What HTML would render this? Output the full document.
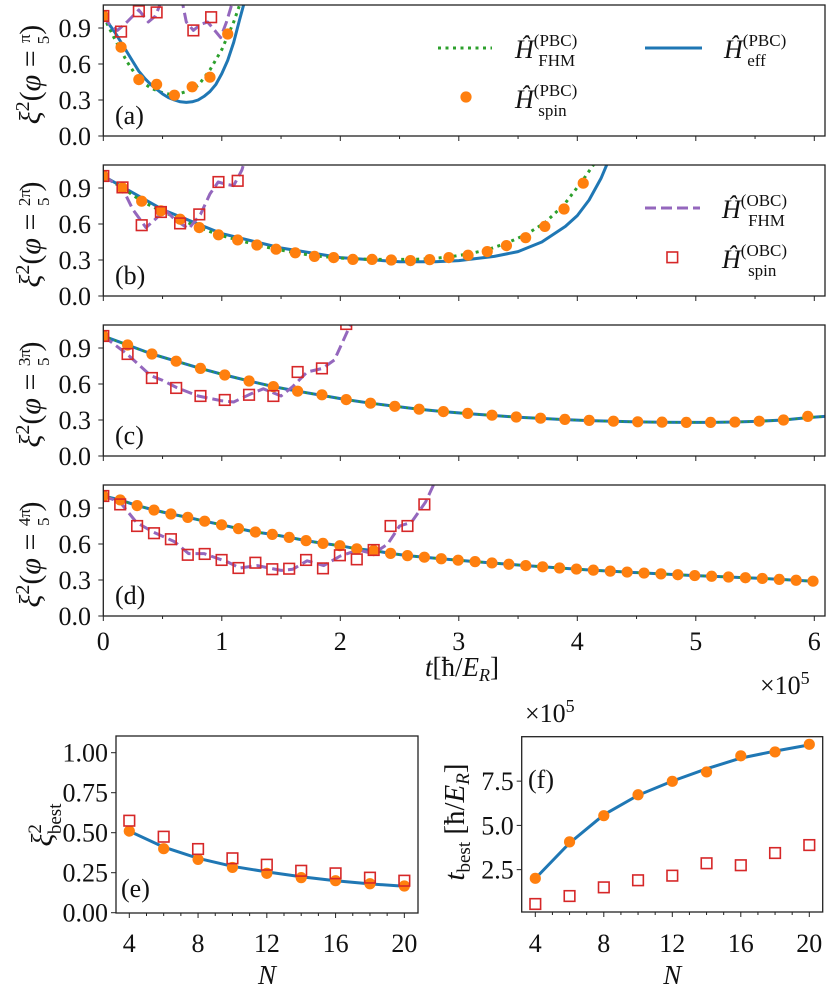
<!DOCTYPE html>
<html><head><meta charset="utf-8"><style>
html,body{margin:0;padding:0;background:#fff}
svg{display:block}
text{font-family:"Liberation Serif",serif;fill:#111}
</style></head><body>
<svg id="fig" width="830" height="996" viewBox="0 0 830 996" xmlns="http://www.w3.org/2000/svg"></svg>
<script>
// ---- data: main panels (t in units of 1e5 hbar/E_R) ----
const yTicksMain = [0.0, 0.3, 0.6, 0.9];
const yTickLabelsMain = ["0.0", "0.3", "0.6", "0.9"];
const xTicksMain = [0, 1, 2, 3, 4, 5, 6];
const panelLetters = ["(a)", "(b)", "(c)", "(d)"];
const phiNum = ["π", "2π", "3π", "4π"];
// panel a
const effA_t = [0, 0.05, 0.1, 0.15, 0.2, 0.25, 0.3, 0.35, 0.4, 0.45, 0.5, 0.55, 0.6, 0.65, 0.7, 0.75, 0.8, 0.85, 0.9, 0.95, 1.0, 1.05, 1.1, 1.15, 1.2];
const effA_v = [1.0, 0.93, 0.86, 0.78, 0.70, 0.62, 0.54, 0.48, 0.43, 0.39, 0.35, 0.32, 0.30, 0.285, 0.28, 0.285, 0.30, 0.33, 0.37, 0.43, 0.52, 0.63, 0.78, 0.97, 1.15];
const fhmA_t = [0, 0.1, 0.2, 0.3, 0.4, 0.5, 0.6, 0.7, 0.8, 0.9, 1.0, 1.1, 1.16];
const fhmA_v = [1.0, 0.80, 0.62, 0.47, 0.40, 0.36, 0.34, 0.37, 0.42, 0.55, 0.72, 0.95, 1.12];
const spinA_t = [0, 0.15, 0.3, 0.45, 0.6, 0.75, 0.9, 1.05];
const spinA_v = [1.0, 0.74, 0.47, 0.43, 0.34, 0.41, 0.49, 0.85];
const obcSpinA_t = [0, 0.15, 0.3, 0.45, 0.76, 0.91];
const obcSpinA_v = [1.0, 0.87, 1.04, 1.03, 0.88, 0.99];
const obcFhmA_t = [0, 0.06, 0.12, 0.2, 0.3, 0.38, 0.44, 0.5, 0.66, 0.7, 0.76, 0.82, 0.88, 0.94, 0.99, 1.04, 1.1];
const obcFhmA_v = [1.0, 0.92, 0.88, 0.95, 1.05, 0.95, 1.0, 1.15, 1.15, 0.95, 0.88, 0.93, 0.95, 0.88, 0.82, 0.95, 1.15];
// panel b
const effB_t = [0, 0.5, 1.0, 1.5, 2.0, 2.5, 2.8, 3.0, 3.3, 3.5, 3.7, 3.9, 4.0, 4.1, 4.2, 4.26];
const effB_v = [1.0, 0.72, 0.52, 0.40, 0.32, 0.285, 0.285, 0.295, 0.33, 0.37, 0.45, 0.58, 0.67, 0.80, 0.98, 1.12];
const spinB_v = [1.0, 0.90, 0.79, 0.71, 0.64, 0.57, 0.51, 0.467, 0.425, 0.39, 0.36, 0.33, 0.32, 0.305, 0.305, 0.30, 0.295, 0.303, 0.32, 0.34, 0.37, 0.42, 0.486, 0.58, 0.725, 0.94];
const dtB = 0.162;
const fhmB_v = [1.0, 0.90, 0.79, 0.71, 0.64, 0.57, 0.51, 0.467, 0.425, 0.39, 0.36, 0.335, 0.32, 0.31, 0.305, 0.305, 0.305, 0.31, 0.325, 0.35, 0.385, 0.44, 0.51, 0.61, 0.76, 0.97, 1.2];
const obcSpinB_v = [1.0, 0.905, 0.59, 0.70, 0.605, 0.68, 0.95, 0.96];
const obcFhmB_t = [0, 0.16, 0.25, 0.36, 0.45, 0.52, 0.6, 0.72, 0.82, 0.9, 0.97, 1.04, 1.1, 1.17, 1.2];
const obcFhmB_v = [1.0, 0.9, 0.72, 0.57, 0.65, 0.72, 0.64, 0.56, 0.68, 0.85, 0.95, 0.93, 0.92, 1.05, 1.15];
// panel c
const dtC = 0.205;
const spinC_v = [1.0, 0.925, 0.85, 0.79, 0.73, 0.675, 0.625, 0.578, 0.54, 0.51, 0.47, 0.44, 0.414, 0.39, 0.37, 0.355, 0.34, 0.325, 0.315, 0.305, 0.297, 0.29, 0.285, 0.282, 0.28, 0.28, 0.283, 0.29, 0.30, 0.33];
const effC_v = [1.0, 0.925, 0.85, 0.79, 0.73, 0.675, 0.625, 0.578, 0.54, 0.505, 0.47, 0.44, 0.414, 0.39, 0.37, 0.353, 0.338, 0.324, 0.313, 0.303, 0.295, 0.289, 0.284, 0.281, 0.28, 0.28, 0.283, 0.29, 0.30, 0.32, 0.335];
const obcSpinC_v = [1.0, 0.85, 0.65, 0.567, 0.5, 0.467, 0.51, 0.5, 0.7, 0.73, 1.1];
const obcFhmC_t = [0, 0.2, 0.4, 0.5, 0.62, 0.8, 1.0, 1.1, 1.25, 1.35, 1.5, 1.6, 1.72, 1.85, 1.95, 2.07, 2.12];
const obcFhmC_v = [1.0, 0.85, 0.67, 0.63, 0.57, 0.50, 0.46, 0.45, 0.52, 0.56, 0.50, 0.58, 0.70, 0.73, 0.80, 1.06, 1.15];
// panel d
const dtD = 0.1426;
const spinD_v = [1.0, 0.967, 0.92, 0.883, 0.85, 0.822, 0.79, 0.76, 0.728, 0.70, 0.68, 0.655, 0.628, 0.605, 0.586, 0.56, 0.545, 0.522, 0.503, 0.49, 0.477, 0.465, 0.453, 0.442, 0.431, 0.42, 0.41, 0.40, 0.391, 0.382, 0.374, 0.366, 0.358, 0.351, 0.344, 0.337, 0.331, 0.325, 0.319, 0.313, 0.305, 0.298, 0.29];
const obcSpinD_v = [1.0, 0.93, 0.75, 0.69, 0.64, 0.51, 0.517, 0.467, 0.40, 0.444, 0.39, 0.394, 0.467, 0.397, 0.506, 0.472, 0.55, 0.75, 0.75, 0.93];
const obcFhmD_t = [0, 0.14, 0.28, 0.42, 0.6, 0.72, 0.85, 1.05, 1.15, 1.3, 1.5, 1.6, 1.72, 1.86, 2.0, 2.15, 2.28, 2.4, 2.5, 2.6, 2.72, 2.8];
const obcFhmD_v = [1.0, 0.95, 0.78, 0.70, 0.62, 0.52, 0.52, 0.45, 0.40, 0.42, 0.38, 0.39, 0.46, 0.42, 0.50, 0.55, 0.52, 0.60, 0.75, 0.78, 0.95, 1.12];
// panel e, f
const Ns = [4, 6, 8, 10, 12, 14, 16, 18, 20];
const xiSpin = [0.51, 0.40, 0.333, 0.283, 0.246, 0.219, 0.20, 0.181, 0.167];
const xiObc = [0.575, 0.475, 0.398, 0.34, 0.30, 0.262, 0.246, 0.219, 0.20];
const xiEff = [0.51, 0.41, 0.34, 0.29, 0.255, 0.225, 0.20, 0.18, 0.165];
const eYTicks = [0, 0.25, 0.5, 0.75, 1.0];
const eYLabels = ["0.00", "0.25", "0.50", "0.75", "1.00"];
const nTicks = [4, 8, 12, 16, 20];
const tSpin = [2.01, 4.07, 5.55, 6.73, 7.49, 8.02, 8.93, 9.15, 9.58];
const tObc = [0.56, 1.01, 1.50, 1.90, 2.16, 2.86, 2.75, 3.44, 3.89];
const tEff = [2.0, 4.0, 5.6, 6.7, 7.5, 8.2, 8.8, 9.2, 9.55];
const fYTicks = [2.5, 5.0, 7.5];
const fYLabels = ["2.5", "5.0", "7.5"];

const C = {blue:"#1f77b4", orange:"#ff7f0e", green:"#2ca02c", purple:"#9467bd", red:"#d62728"};
const svg = document.getElementById('fig');
const NS = "http://www.w3.org/2000/svg";
function mk(tag, attrs, parent){
  const e = document.createElementNS(NS, tag);
  for (const k in attrs) e.setAttribute(k, attrs[k]);
  (parent || svg).appendChild(e);
  return e;
}
function seq(n, dt){ const a=[]; for(let i=0;i<n;i++) a.push(i*dt); return a; }
function pathD(ts, vs, X, Y){ return ts.map((t,i)=>(i?'L':'M')+X(t).toFixed(1)+','+Y(vs[i]).toFixed(1)).join(''); }

// ---- main panels ----
const L = 103.3, R = 825, tops = [5, 165, 325, 485], H = 131;
const X = t => L + t * 118.5;
const defs = mk('defs', {});
tops.forEach((top, p) => {
  const cp = mk('clipPath', {id: 'clip' + p}, defs);
  mk('rect', {x: L, y: top, width: R - L, height: H}, cp);
});

function drawPanel(p, series){
  const top = tops[p], bot = top + H;
  const Y = v => bot - v * 120;
  const g = mk('g', {});
  
  
  const plot = mk('g', {'clip-path': 'url(#clip' + p + ')'}, g);
  series.forEach(s => {
    if (s.type === 'line') {
      const el = mk('path', {d: pathD(s.t, s.v, X, Y), fill: 'none', stroke: s.color, 'stroke-width': s.w || 3, 'stroke-dasharray': s.dash || 'none', 'stroke-linejoin': 'round'}, plot);
      
      
    } else {
      s.t.forEach((t, i) => {
        let el;
        if (s.type === 'dot') el = mk('circle', {cx: X(t), cy: Y(s.v[i]), r: 5.6, fill: C.orange}, plot);
        else el = mk('rect', {x: X(t) - 5.3, y: Y(s.v[i]) - 5.3, width: 10.6, height: 10.6, fill: 'none', stroke: C.red, 'stroke-width': 1.6}, plot);
        
        
      });
    }
  });
  const fr = mk('rect', {x: L, y: top, width: R - L, height: H, fill: 'none', stroke: '#222', 'stroke-width': 1.3}, g);
  
  
  yTicksMain.forEach((v, i) => {
    mk('line', {x1: L - 5, x2: L, y1: Y(v), y2: Y(v), stroke: '#222', 'stroke-width': 1}, g);
    const tx = mk('text', {x: 91, y: Y(v) + 9, 'text-anchor': 'end', 'font-size': 26}, g);
    tx.textContent = yTickLabelsMain[i];
    
    
  });
  for (let t = 0; t <= 6.01; t += 0.5) {
    const major = Math.abs(t - Math.round(t)) < 0.01;
    mk('line', {x1: X(t), x2: X(t), y1: bot, y2: bot + (major ? 5 : 3), stroke: '#222', 'stroke-width': 1}, g);
  }
  const lab = mk('text', {x: 115, y: bot - 12, 'font-size': 26}, g);
  lab.textContent = panelLetters[p];
  
  
  const yl = mk('text', {transform: `translate(40,${top + H / 2 + 4}) rotate(-90)`, 'text-anchor': 'middle', 'font-size': 30}, g);
  
  
  const nw = phiNum[p].length > 1 ? 16 : 9;
  yl.innerHTML = '<tspan font-style="italic">ξ</tspan><tspan dy="-11" font-size="20">2</tspan><tspan dy="11">(</tspan><tspan font-style="italic">φ</tspan> = <tspan font-size="17" dy="-10">' + phiNum[p] + '</tspan><tspan font-size="17" dx="-' + (nw + 1) + '" dy="19">5</tspan><tspan dy="-9" dx="' + (nw > 9 ? 6 : 1) + '">)</tspan>';
}

drawPanel(0, [
  {type:'line', t:fhmA_t, v:fhmA_v, color:C.green, dash:'3,4.5', name:'fhm-pbc-line'},
  {type:'line', t:effA_t, v:effA_v, color:C.blue, name:'eff-pbc-line'},
  {type:'line', t:obcFhmA_t, v:obcFhmA_v, color:C.purple, dash:'11,5', name:'fhm-obc-line'},
  {type:'dot', t:spinA_t, v:spinA_v, name:'spin-pbc'},
  {type:'sq', t:obcSpinA_t, v:obcSpinA_v, name:'spin-obc'}
]);
drawPanel(1, [
  {type:'line', t:effB_t, v:effB_v, color:C.blue, name:'eff-pbc-line'},
  {type:'line', t:seq(fhmB_v.length, dtB), v:fhmB_v, color:C.green, dash:'3,4.5', name:'fhm-pbc-line'},
  {type:'line', t:obcFhmB_t, v:obcFhmB_v, color:C.purple, dash:'11,5', name:'fhm-obc-line'},
  {type:'dot', t:seq(spinB_v.length, dtB), v:spinB_v, name:'spin-pbc'},
  {type:'sq', t:seq(obcSpinB_v.length, dtB), v:obcSpinB_v, name:'spin-obc'}
]);
drawPanel(2, [
  {type:'line', t:seq(effC_v.length, dtC), v:effC_v, color:C.blue, name:'eff-pbc-line'},
  {type:'line', t:seq(effC_v.length, dtC), v:effC_v, color:C.green, w:2, dash:'2,4', name:'fhm-pbc-line'},
  {type:'line', t:obcFhmC_t, v:obcFhmC_v, color:C.purple, dash:'11,5', name:'fhm-obc-line'},
  {type:'dot', t:seq(spinC_v.length, dtC), v:spinC_v, name:'spin-pbc'},
  {type:'sq', t:seq(obcSpinC_v.length, dtC), v:obcSpinC_v, name:'spin-obc'}
]);
drawPanel(3, [
  {type:'line', t:seq(spinD_v.length, dtD), v:spinD_v, color:C.blue, name:'eff-pbc-line'},
  {type:'line', t:seq(spinD_v.length, dtD), v:spinD_v, color:C.green, w:2, dash:'2,4', name:'fhm-pbc-line'},
  {type:'line', t:obcFhmD_t, v:obcFhmD_v, color:C.purple, dash:'11,5', name:'fhm-obc-line'},
  {type:'dot', t:seq(spinD_v.length, dtD), v:spinD_v, name:'spin-pbc'},
  {type:'sq', t:seq(obcSpinD_v.length, dtD), v:obcSpinD_v, name:'spin-obc'}
]);
// x tick labels under (d)
xTicksMain.forEach(t => {
  const tx = mk('text', {x: X(t), y: 650, 'text-anchor': 'middle', 'font-size': 26});
  tx.textContent = String(t);
  
  
});
let xt = mk('text', {x: 462, y: 676, 'text-anchor': 'middle', 'font-size': 27});
xt.innerHTML = '<tspan font-style="italic">t</tspan>[ħ/<tspan font-style="italic">E</tspan><tspan font-size="18" dy="5" font-style="italic">R</tspan><tspan dy="-5">]</tspan>';


let xo = mk('text', {x: 760, y: 694, 'font-size': 26});
xo.innerHTML = '×10<tspan dy="-10" font-size="18">5</tspan>';



// legends
function legendLabel(x, y, sup, sub, name){
  const t = mk('text', {x: x, y: y, 'font-size': 26});
  t.innerHTML = '<tspan font-style="italic">Ĥ</tspan><tspan font-size="17" dy="-12">(' + sup + ')</tspan><tspan font-size="17" dx="-' + (sup.length * 11 + 6) + '" dy="20">' + sub + '</tspan>';
  
  
}
let e1 = mk('line', {x1: 438, x2: 492, y1: 48, y2: 48, stroke: C.green, 'stroke-width': 3, 'stroke-dasharray': '3,4.5'});
 
legendLabel(515, 58, 'PBC', 'FHM', 'legend-fhm-pbc');
let e2 = mk('line', {x1: 645, x2: 702, y1: 48, y2: 48, stroke: C.blue, 'stroke-width': 3});
 
legendLabel(724, 58, 'PBC', 'eff', 'legend-eff-pbc');
let e3 = mk('circle', {cx: 466, cy: 97, r: 5.6, fill: C.orange});
 
legendLabel(515, 108, 'PBC', 'spin', 'legend-spin-pbc');
let e4 = mk('line', {x1: 645, x2: 700, y1: 208, y2: 208, stroke: C.purple, 'stroke-width': 3, 'stroke-dasharray': '11,5'});
 
legendLabel(722, 218, 'OBC', 'FHM', 'legend-fhm-obc');
let e5 = mk('rect', {x: 667, y: 252, width: 10.6, height: 10.6, fill: 'none', stroke: C.red, 'stroke-width': 1.6});
 
legendLabel(722, 268, 'OBC', 'spin', 'legend-spin-obc');

// ---- small panels ----
function smallPanel(cfg){
  const g = mk('g', {});
  
  
  const {XN, Y, l, r, t, b} = cfg;
  mk('path', {d: pathD(Ns, cfg.line, XN, Y), fill: 'none', stroke: C.blue, 'stroke-width': 3}, g);
  Ns.forEach((n, i) => {
    const c = mk('circle', {cx: XN(n), cy: Y(cfg.dots[i]), r: 5.6, fill: C.orange}, g);
    
    
    const s = mk('rect', {x: XN(n) - 5.3, y: Y(cfg.sq[i]) - 5.3, width: 10.6, height: 10.6, fill: 'none', stroke: C.red, 'stroke-width': 1.6}, g);
    
    
  });
  mk('rect', {x: l, y: t, width: r - l, height: b - t, fill: 'none', stroke: '#222', 'stroke-width': 1.3}, g);
  for (let n = 4; n <= 20; n++) {
    const major = n % 4 === 0;
    mk('line', {x1: XN(n), x2: XN(n), y1: b, y2: b + (major ? 5 : 3), stroke: '#222'}, g);
  }
  nTicks.forEach(n => {
    const tx = mk('text', {x: XN(n), y: 952, 'text-anchor': 'middle', 'font-size': 26}, g);
    tx.textContent = String(n);
    
    
  });
  cfg.yt.forEach((v, i) => {
    mk('line', {x1: l - 5, x2: l, y1: Y(v), y2: Y(v), stroke: '#222'}, g);
    const tx = mk('text', {x: l - 8, y: Y(v) + 9, 'text-anchor': 'end', 'font-size': 26}, g);
    tx.textContent = cfg.yl[i];
    
    
  });
  const nt = mk('text', {x: (l + r) / 2, y: 984, 'text-anchor': 'middle', 'font-size': 27, 'font-style': 'italic'}, g);
  nt.textContent = 'N';
  
  
  const pl = mk('text', {x: cfg.lx, y: cfg.ly, 'font-size': 26}, g);
  pl.textContent = cfg.letter;
  
  
}
smallPanel({name:'panel-e', l:116, r:418, t:736, b:913, XN:n=>129.3+(n-4)*17.19, Y:v=>912.7-v*160,
  line:xiEff, dots:xiSpin, sq:xiObc, yt:eYTicks, yl:eYLabels, letter:'(e)', lx:121, ly:897});
smallPanel({name:'panel-f', l:521.7, r:822.7, t:736.7, b:912, XN:n=>535.3+(n-4)*17.125, Y:v=>913.9-v*17.7,
  line:tEff, dots:tSpin, sq:tObc, yt:fYTicks, yl:fYLabels, letter:'(f)', lx:528, ly:788});
let ey = mk('text', {transform: 'translate(52,825) rotate(-90)', 'text-anchor': 'middle', 'font-size': 30});
ey.innerHTML = '<tspan font-style="italic">ξ</tspan><tspan font-size="19" dy="-11">2</tspan><tspan font-size="19" dx="-10" dy="20">best</tspan>';


let fy = mk('text', {transform: 'translate(464,822) rotate(-90)', 'text-anchor': 'middle', 'font-size': 29});
fy.innerHTML = '<tspan font-style="italic">t</tspan><tspan font-size="19" dy="6">best</tspan><tspan dy="-6"> [ħ/</tspan><tspan font-style="italic">E</tspan><tspan font-size="19" dy="5" font-style="italic">R</tspan><tspan dy="-5">]</tspan>';


let fo = mk('text', {x: 525, y: 722, 'font-size': 26});
fo.innerHTML = '×10<tspan dy="-10" font-size="18">5</tspan>';


</script>
</body></html>
